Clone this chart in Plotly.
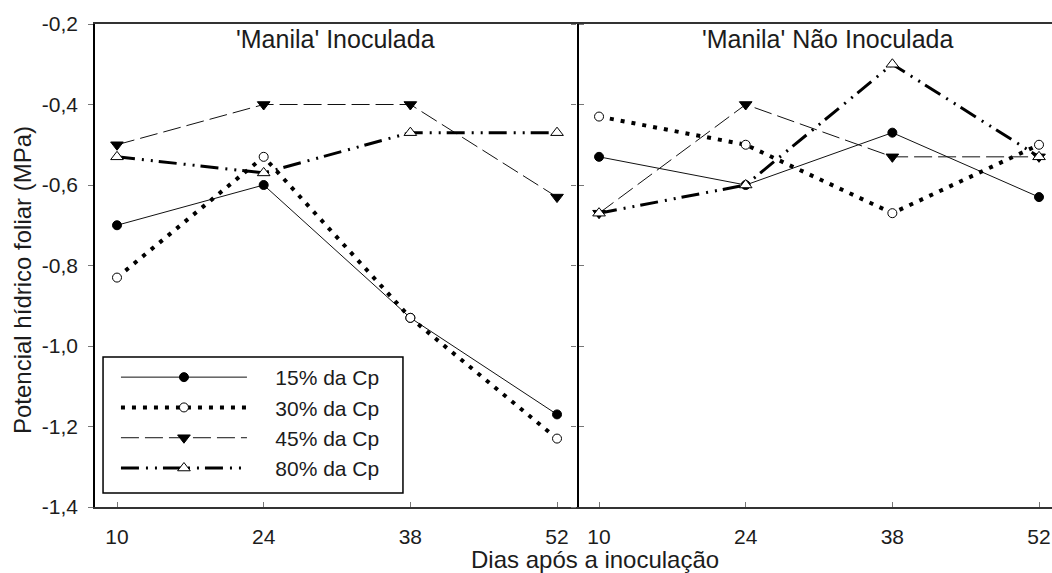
import plotly.graph_objects as go

# Days after inoculation
days = [10, 24, 38, 52]

# Leaf water potential (MPa) - 'Manila' inoculated
inoc_15 = [-0.70, -0.60, -0.93, -1.17]
inoc_30 = [-0.83, -0.53, -0.93, -1.23]
inoc_45 = [-0.50, -0.40, -0.40, -0.63]
inoc_80 = [-0.53, -0.57, -0.47, -0.47]

# Leaf water potential (MPa) - 'Manila' not inoculated
nao_15 = [-0.53, -0.60, -0.47, -0.63]
nao_30 = [-0.43, -0.50, -0.67, -0.50]
nao_45 = [-0.67, -0.40, -0.53, -0.53]
nao_80 = [-0.67, -0.60, -0.30, -0.53]

series_names = ["15% da Cp", "30% da Cp", "45% da Cp", "80% da Cp"]
y_ticks = [-1.4, -1.2, -1.0, -0.8, -0.6, -0.4, -0.2]
y_tick_text = ["-1,4", "-1,2", "-1,0", "-0,8", "-0,6", "-0,4", "-0,2"]
x_ticks = [10, 24, 38, 52]

FONT = "Arial, Liberation Sans, sans-serif"
TXT = "#1c1c1c"

styles = [
    dict(line=dict(color="#111", width=1, dash="solid"),
         marker=dict(symbol="circle", size=9, color="#000",
                     line=dict(color="#000", width=1))),
    dict(line=dict(color="#000", width=4, dash="4px,7px"),
         marker=dict(symbol="circle", size=9, color="white",
                     line=dict(color="#000", width=1))),
    dict(line=dict(color="#111", width=1, dash="18px,6px"),
         marker=dict(symbol="triangle-down", size=11, color="#000",
                     line=dict(color="#000", width=1))),
    dict(line=dict(color="#000", width=3, dash="18px,7px,2px,7px,2px,6px"),
         marker=dict(symbol="triangle-up", size=11, color="white",
                     line=dict(color="#000", width=1))),
]

fig = go.Figure()

pad = "\u00a0" * 4
for name, ys, st in zip(series_names, [inoc_15, inoc_30, inoc_45, inoc_80], styles):
    fig.add_trace(go.Scatter(x=days, y=ys, mode="lines+markers", name=pad + name,
                             xaxis="x", yaxis="y", line=st["line"], marker=st["marker"],
                             showlegend=True))
for name, ys, st in zip(series_names, [nao_15, nao_30, nao_45, nao_80], styles):
    fig.add_trace(go.Scatter(x=days, y=ys, mode="lines+markers", name=pad + name,
                             xaxis="x2", yaxis="y2", line=st["line"], marker=st["marker"],
                             showlegend=False))

split = 0.5037
xcommon = dict(tickvals=x_ticks, ticktext=[str(v) for v in x_ticks], ticks="inside",
               ticklen=5, tickcolor="#777", tickwidth=1, showline=True, linecolor="#333",
               linewidth=1.5, mirror=True, showgrid=False, zeroline=False,
               tickfont=dict(family=FONT, size=21, color=TXT), ticklabelstandoff=10)

fig.update_layout(
    width=1052, height=573,
    margin=dict(l=95, r=0, t=24, b=66),
    paper_bgcolor="white", plot_bgcolor="white",
    font=dict(family=FONT, color=TXT),
    xaxis=dict(domain=[0, split], range=[7.9, 53.91], anchor="y", **xcommon),
    xaxis2=dict(domain=[split, 1], range=[7.9, 53.24], anchor="y2", **xcommon),
    yaxis=dict(domain=[0, 1], range=[-1.4, -0.2], anchor="x", tickvals=y_ticks,
               ticktext=y_tick_text, ticks="outside", ticklen=5, tickcolor="#777",
               showline=True, linecolor="#000", linewidth=1.5, mirror="ticks",
               showgrid=False, zeroline=False, ticklabelstandoff=6,
               tickfont=dict(family=FONT, size=21, color=TXT)),
    yaxis2=dict(domain=[0, 1], range=[-1.4, -0.2], anchor="x2", tickvals=y_ticks,
                ticks="outside", ticklen=5, tickcolor="#777", showticklabels=False,
                showline=False, showgrid=False, zeroline=False),
    legend=dict(x=0.0219, y=0.3106, xanchor="left", yanchor="top",
                bgcolor="rgba(0,0,0,0)", borderwidth=0, itemwidth=126,
                tracegroupgap=0, font=dict(family=FONT, size=21, color=TXT)),
    shapes=[dict(type="rect", xref="paper", yref="paper", x0=0.0084, x1=0.3218,
                 y0=0.029, y1=0.3106, line=dict(color="#000", width=1.5),
                 fillcolor="rgba(0,0,0,0)")],
    annotations=[
        dict(text="'Manila' Inoculada", xref="paper", yref="paper", x=0.2518, y=0.969,
             xanchor="center", yanchor="middle", showarrow=False,
             font=dict(family=FONT, size=25, color=TXT)),
        dict(text="'Manila' Não Inoculada", xref="paper", yref="paper", x=0.7649, y=0.969,
             xanchor="center", yanchor="middle", showarrow=False,
             font=dict(family=FONT, size=25, color=TXT)),
        dict(text="Dias após a inoculação", xref="paper", yref="paper", x=0.5225, y=-0.108,
             xanchor="center", yanchor="middle", showarrow=False,
             font=dict(family=FONT, size=24, color=TXT)),
        dict(text="Potencial hídrico foliar (MPa)", xref="paper", yref="paper", x=-0.0752,
             y=0.47, xanchor="center", yanchor="middle", textangle=-90, showarrow=False,
             font=dict(family=FONT, size=24, color=TXT)),
    ],
)

fig.write_html("out.html")
